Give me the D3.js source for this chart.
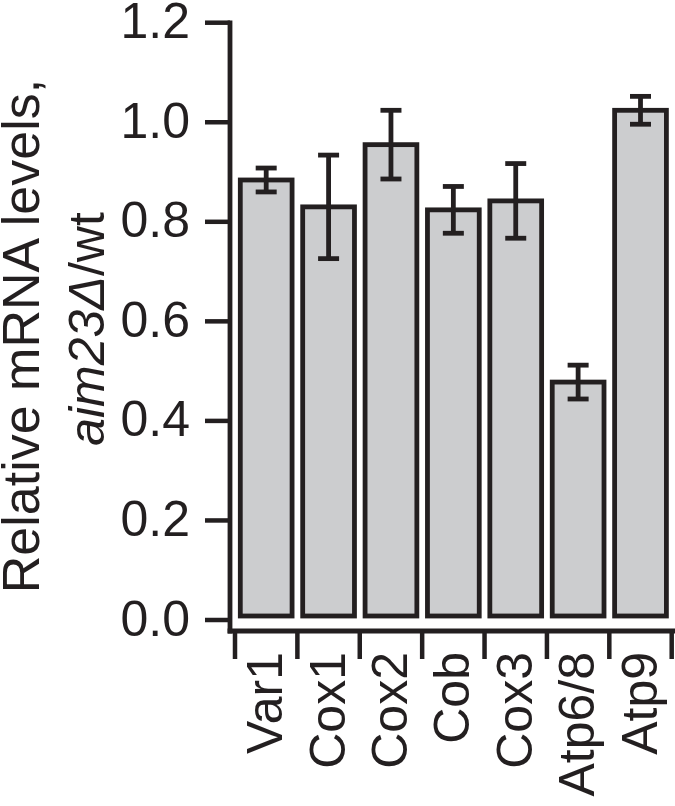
<!DOCTYPE html>
<html>
<head>
<meta charset="utf-8">
<script src="https://cdn.jsdelivr.net/npm/d3@7"></script>
<style>
  body { margin: 0; background: #fff; }
  text { font-family: "Liberation Sans", Arial, Helvetica, sans-serif; fill: #231f20; }
</style>
</head>
<body>
<svg id="chart" width="675" height="806"></svg>
<script>
// data
const genes = ['Var1', 'Cox1', 'Cox2', 'Cob', 'Cox3', 'Atp6/8', 'Atp9'];
const means = [0.884, 0.830, 0.955, 0.824, 0.842, 0.478, 1.024];
const errs = [0.024, 0.104, 0.069, 0.047, 0.075, 0.034, 0.028];
const yTicks = [0.0, 0.2, 0.4, 0.6, 0.8, 1.0, 1.2];

const ink = '#231f20';
const barFill = '#cccdcf';

const svg = d3.select('#chart');

const y = d3.scaleLinear()
  .domain([0, 1.2])
  .range([620, 22.7]);

const x = d3.scaleBand()
  .domain(genes)
  .range([235, 671.7])
  .paddingInner(0.17)
  .paddingOuter(0.085);

const data = genes.map((g, i) => ({ gene: g, mean: means[i], err: errs[i] }));

// y axis line + ticks
const axisX = 230;
svg.append('line')
  .attr('x1', axisX).attr('x2', axisX)
  .attr('y1', y(1.2) - 2.2).attr('y2', 633.5)
  .attr('stroke', ink).attr('stroke-width', 4.8);

svg.selectAll('.ytick')
  .data(yTicks)
  .enter()
  .append('line')
  .attr('class', 'ytick')
  .attr('x1', 205).attr('x2', axisX)
  .attr('y1', d => y(d)).attr('y2', d => y(d))
  .attr('stroke', ink).attr('stroke-width', 4.5);

svg.selectAll('.ylab')
  .data(yTicks)
  .enter()
  .append('text')
  .attr('class', 'ylab')
  .attr('x', 190)
  .attr('y', d => y(d) + 15.5)
  .attr('text-anchor', 'end')
  .style('font-size', '50px')
  .text(d => d.toFixed(1));

// x axis line + ticks at band edges
svg.append('line')
  .attr('x1', axisX - 2.4).attr('x2', 675)
  .attr('y1', 631).attr('y2', 631)
  .attr('stroke', ink).attr('stroke-width', 5);

svg.selectAll('.xtick')
  .data(d3.range(genes.length + 1))
  .enter()
  .append('line')
  .attr('class', 'xtick')
  .attr('x1', i => x.range()[0] + i * x.step())
  .attr('x2', i => x.range()[0] + i * x.step())
  .attr('y1', 631).attr('y2', 659)
  .attr('stroke', ink).attr('stroke-width', 4.5);

svg.selectAll('.xlab')
  .data(genes)
  .enter()
  .append('text')
  .attr('class', 'xlab')
  .attr('transform', d => `translate(${x(d) + x.bandwidth() / 2},652) rotate(-90)`)
  .attr('y', 16)
  .attr('text-anchor', 'end')
  .style('font-size', '50px')
  .text(d => d);

// bars
svg.selectAll('.bar')
  .data(data)
  .enter()
  .append('rect')
  .attr('class', 'bar')
  .attr('x', d => x(d.gene))
  .attr('y', d => y(d.mean))
  .attr('width', x.bandwidth())
  .attr('height', d => y(0) - 4 - y(d.mean))
  .attr('fill', barFill)
  .attr('stroke', ink)
  .attr('stroke-width', 4.8);

// error bars
const capW = 21;
const eb = svg.selectAll('.err')
  .data(data)
  .enter()
  .append('g')
  .attr('class', 'err')
  .attr('stroke', ink)
  .attr('stroke-width', 4.8);

eb.append('line')
  .attr('x1', d => x(d.gene) + x.bandwidth() / 2)
  .attr('x2', d => x(d.gene) + x.bandwidth() / 2)
  .attr('y1', d => y(d.mean + d.err))
  .attr('y2', d => y(d.mean - d.err));

eb.append('line')
  .attr('x1', d => x(d.gene) + x.bandwidth() / 2 - capW / 2)
  .attr('x2', d => x(d.gene) + x.bandwidth() / 2 + capW / 2)
  .attr('y1', d => y(d.mean + d.err))
  .attr('y2', d => y(d.mean + d.err));

eb.append('line')
  .attr('x1', d => x(d.gene) + x.bandwidth() / 2 - capW / 2)
  .attr('x2', d => x(d.gene) + x.bandwidth() / 2 + capW / 2)
  .attr('y1', d => y(d.mean - d.err))
  .attr('y2', d => y(d.mean - d.err));

// y axis title, two lines
svg.append('text')
  .attr('transform', 'translate(39,336) rotate(-90)')
  .attr('text-anchor', 'middle')
  .style('font-size', '52px')
  .text('Relative mRNA levels,');

const title2 = svg.append('text')
  .attr('transform', 'translate(104,329) rotate(-90)')
  .attr('text-anchor', 'middle')
  .style('font-size', '50px');
title2.append('tspan').style('font-style', 'italic').text('aim23\u0394');
title2.append('tspan').text('/wt');
</script>
</body>
</html>
